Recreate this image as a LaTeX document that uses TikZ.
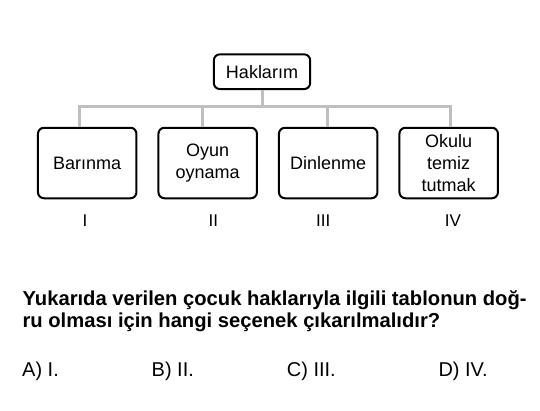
\documentclass[tikz,border=0pt]{standalone}
\usepackage{fontspec}
\setmainfont{Liberation Sans}
\usetikzlibrary{positioning}

\begin{document}
\begin{tikzpicture}[x=1pt, y=-1pt,
    box/.style={draw, line width=2pt, rounded corners=6pt, fill=white,
        minimum width=98.5pt, minimum height=70.5pt, align=center,
        font=\fontsize{18}{22}\selectfont},
    link/.style={draw=gray!50, line width=3pt},
    label/.style={inner sep=0pt, font=\fontsize{17}{20}\selectfont},
    question/.style={inner sep=0pt, anchor=base west, font=\bfseries\fontsize{20.2}{22}\selectfont},
    choice/.style={inner sep=0pt, anchor=base west, font=\fontsize{20}{24}\selectfont}]
\useasboundingbox (0,0) rectangle (540,410);

\node[box, minimum width=96.3pt, minimum height=34.7pt] (root) at (262,71.7) {Haklarım};
\node[box] (b1) at (87.2,163) {Barınma};
\node[box, right=20pt of b1] (b2) {Oyun\\oynama};
\node[box, right=20pt of b2] (b3) {Dinlenme};
\node[box, right=20pt of b3] (b4) {Okulu\\temiz\\tutmak};

\coordinate (bus) at (262,106.3);
\draw[link] (root.south) -- (bus);
\foreach \b/\dx in {b1/-8.2, b2/-5, b3/-1, b4/1.5}
    \draw[link] ([xshift=\dx pt]\b.north) |- (bus);

\foreach \i/\x/\t in {1/85/I, 2/213.3/II, 3/323.3/III, 4/453/IV}
    \node[label] (n\i) at (\x,221) {\t};

\node[question] (q1) at (22.4,305.7) {Yukarıda verilen çocuk haklarıyla ilgili tablonun doğ-};
\node[question] (q2) at (22.4,327.7) {ru olması için hangi seçenek çıkarılmalıdır?};

\foreach \i/\x/\t in {a/22/A) I., b/151.5/B) II., c/286.7/C) III., d/438.3/D) IV.}
    \node[choice] (opt\i) at (\x,376.7) {\t};

\end{tikzpicture}
\end{document}
